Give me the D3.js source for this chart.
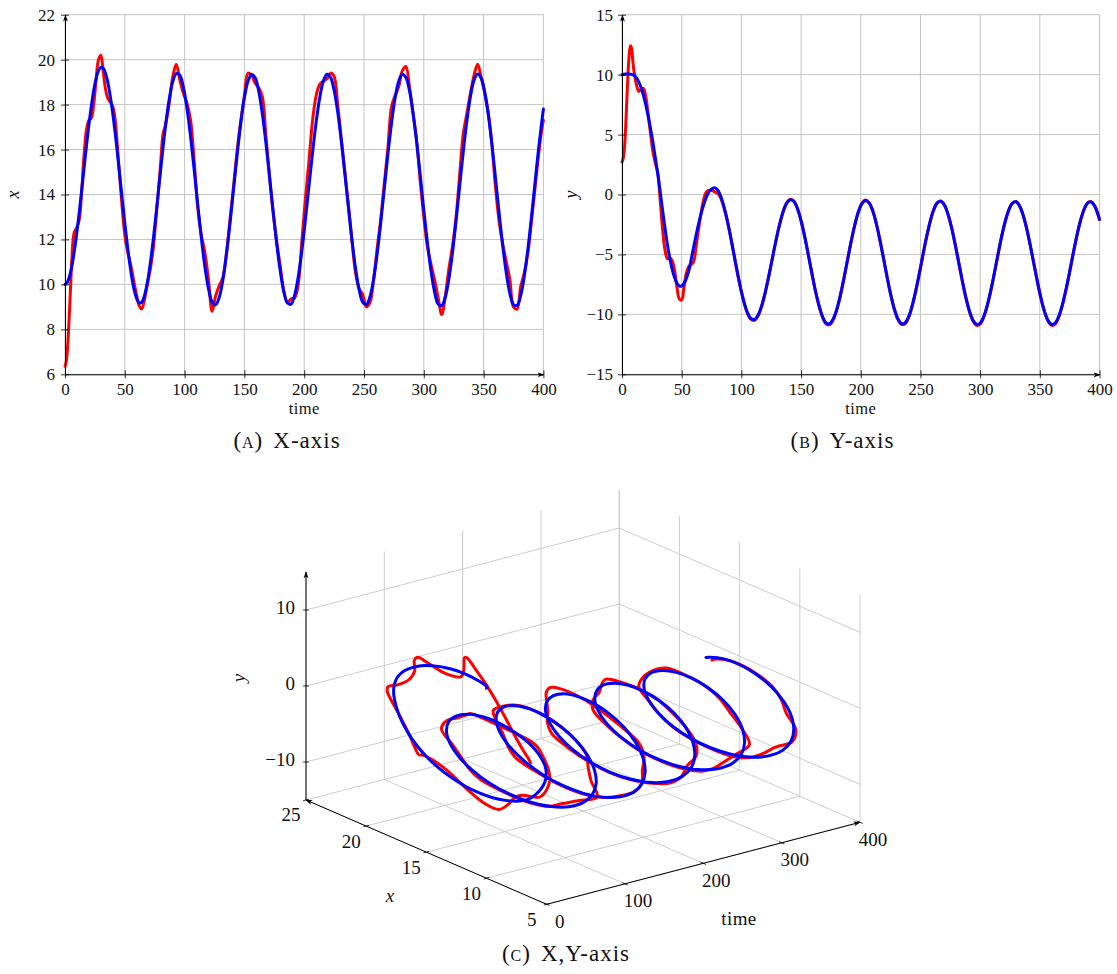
<!DOCTYPE html>
<html>
<head>
<meta charset="utf-8">
<script src="https://cdn.jsdelivr.net/npm/d3@7"></script>
<style>
  body { margin: 0; background: #fff; }
  svg { display: block; }
  text { font-family: "Liberation Serif", "Times New Roman", serif; fill: #111; }
</style>
</head>
<body>
<svg id="chart" width="1117" height="974" font-family="Liberation Serif, serif"></svg>
<script>
// ---- data: sampled trajectories (time, x, y) for the reference (red) and the estimate (blue)
const time = [0,1,2,3,4,5,6,7,8,9,10,
  12,14,16,18,20,22,24,26,28,30,32,34,36,38,40,42,44,46,48,50,52,54,56,58,60,62,64,66,68,70,72,74,76,78,80,82,84,
  87,90,93,96,99,102,105,108,111,114,117,120,123,126,129,132,135,138,141,144,147,150,153,156,159,162,165,168,171,174,177,180,
  183,186,189,192,195,198,201,204,207,210,213,216,219,222,225,228,231,234,237,240,243,246,249,252,255,258,261,264,267,270,
  273,276,279,282,285,288,291,294,297,300,303,306,309,312,315,318,321,324,327,330,333,336,339,342,345,348,351,354,357,360,
  363,366,369,372,375,378,381,384,387,390,393,396,399,400];

const blueX = [10.00,10.03,10.10,10.23,10.40,10.63,10.89,11.20,11.55,11.93,12.35,
  13.25,14.21,15.21,16.19,17.11,17.93,18.63,19.16,19.51,19.66,
  19.61,19.37,18.94,18.33,17.58,16.72,15.75,14.75,13.73,12.73,11.81,10.97,10.26,9.72,9.36,9.18,
  9.20,9.42,9.85,10.45,11.21,12.09,13.06,14.08,15.11,16.10,17.02,
  18.19,19.00,19.38,
  19.31,18.77,17.83,16.57,15.10,13.55,12.06,10.77,9.80,9.22,
  9.09,9.43,10.20,11.34,12.74,14.27,15.79,17.18,18.30,19.04,19.34,
  19.19,18.59,17.59,16.29,14.81,13.27,11.82,10.59,9.66,9.17,
  9.12,9.52,10.33,11.48,12.87,14.37,15.87,17.22,18.31,19.04,19.35,
  19.21,18.64,17.67,16.40,14.93,13.41,11.95,10.69,9.75,9.20,
  9.10,9.45,10.22,11.36,12.75,14.27,15.79,17.17,18.29,19.03,19.35,
  19.21,18.63,17.64,16.35,14.87,13.32,11.86,10.61,9.67,9.13,
  9.06,9.44,10.25,11.42,12.84,14.38,15.90,17.27,18.36,19.09,19.36,
  19.17,18.54,17.52,16.21,14.71,13.17,11.72,10.50,9.59,9.10,
  9.07,9.50,10.36,11.55,12.99,14.53,16.05,17.39,
  17.80];

const blueY = [10.00,10.02,10.04,10.05,10.06,10.06,10.05,10.04,10.02,9.99,9.95,
  9.75,9.40,8.90,8.26,7.45,6.50,5.45,4.30,3.00,1.68,
  0.25,-1.30,-2.78,-4.15,-5.30,-6.22,-6.92,-7.40,-7.63,-7.64,-7.40,-6.98,-6.35,-5.40,-4.40,-3.42,
  -2.50,-1.67,-1.00,-0.40,0.07,0.36,0.52,0.55,0.39,0.03,-0.52,
  -1.64,-3.02,-4.57,
  -6.15,-7.63,-8.89,-9.83,-10.35,-10.43,-10.06,-9.28,-8.16,-6.79,
  -5.31,-3.84,-2.51,-1.43,-0.72,-0.43,-0.58,-1.19,-2.19,-3.49,-4.99,
  -6.54,-8.01,-9.24,-10.19,-10.71,-10.77,-10.37,-9.55,-8.37,-6.95,
  -5.42,-3.90,-2.55,-1.46,-0.76,-0.50,-0.71,-1.36,-2.42,-3.77,-5.28,
  -6.84,-8.29,-9.49,-10.34,-10.76,-10.72,-10.22,-9.31,-8.07,-6.63,
  -5.09,-3.61,-2.32,-1.32,-0.72,-0.57,-0.87,-1.62,-2.73,-4.11,-5.63,
  -7.16,-8.56,-9.70,-10.48,-10.83,-10.73,-10.18,-9.23,-7.98,-6.52,
  -4.99,-3.52,-2.26,-1.30,-0.74,-0.61,-0.95,-1.72,-2.84,-4.23,-5.75,
  -7.27,-8.65,-9.77,-10.52,-10.84,-10.71,-10.13,-9.16,-7.90,-6.44,
  -4.91,-3.46,-2.21,-1.27,-0.72,-0.62,-0.97,-1.75,
  -2.09];

const redX = [6.35,6.55,7.10,8.00,9.10,10.30,11.40,12.10,12.35,12.45,12.55,
  12.90,14.20,15.80,16.90,17.30,17.40,18.00,19.10,20.00,20.20,
  19.45,18.65,18.25,18.10,17.90,17.30,16.00,14.60,13.30,12.20,11.55,11.10,10.60,10.00,9.50,9.05,
  8.90,9.20,9.75,10.30,10.90,11.70,12.90,14.10,15.40,16.70,17.10,
  18.00,19.20,19.80,
  19.10,18.50,18.05,17.30,15.50,13.40,12.20,11.40,10.20,8.80,
  9.50,9.95,10.30,11.40,12.90,14.40,16.00,17.30,18.40,19.40,19.30,
  18.95,18.75,18.35,16.60,14.80,13.20,11.90,10.80,9.70,9.20,
  9.35,9.40,10.00,11.90,13.80,15.50,17.30,18.40,18.90,19.05,19.15,
  19.40,19.25,18.00,16.50,15.00,13.50,11.90,10.50,9.80,9.55,
  9.00,9.20,10.20,11.60,12.90,14.50,16.10,17.90,18.40,18.80,19.50,
  19.70,18.80,17.60,16.40,14.60,13.00,11.70,10.90,10.20,9.40,
  8.66,9.50,10.70,11.70,13.00,14.90,16.70,17.60,18.50,19.30,19.80,
  19.20,18.50,17.60,16.20,14.30,12.80,11.80,11.00,10.20,9.00,
  8.90,9.90,10.50,11.40,12.80,14.30,15.80,17.00,
  17.30];

const redY = [2.70,3.00,3.80,5.50,7.80,10.00,11.60,12.40,12.20,11.20,10.30,
  9.20,8.60,8.80,8.85,8.10,6.60,5.00,3.50,2.60,1.80,
  -0.50,-2.90,-4.60,-5.35,-5.30,-5.50,-6.30,-7.70,-8.70,-8.80,-7.70,-6.50,-6.00,-5.85,-5.60,-4.40,
  -3.00,-1.70,-0.60,0.10,0.33,0.35,0.30,0.20,0.10,-0.15,-0.65,
  -1.70,-3.05,-4.60,
  -6.20,-7.70,-8.95,-9.90,-10.42,-10.50,-10.12,-9.32,-8.18,-6.80,
  -5.31,-3.84,-2.50,-1.42,-0.70,-0.40,-0.55,-1.17,-2.18,-3.49,-5.00,
  -6.56,-8.04,-9.28,-10.25,-10.80,-10.86,-10.44,-9.60,-8.40,-6.96,
  -5.42,-3.89,-2.53,-1.44,-0.73,-0.46,-0.68,-1.34,-2.41,-3.77,-5.29,
  -6.86,-8.32,-9.54,-10.40,-10.84,-10.80,-10.28,-9.35,-8.09,-6.64,
  -5.09,-3.60,-2.30,-1.30,-0.70,-0.54,-0.85,-1.61,-2.73,-4.12,-5.65,
  -7.19,-8.60,-9.75,-10.55,-10.92,-10.81,-10.24,-9.27,-8.00,-6.53,
  -4.99,-3.51,-2.24,-1.28,-0.71,-0.58,-0.93,-1.71,-2.84,-4.24,-5.77,
  -7.30,-8.69,-9.82,-10.59,-10.92,-10.79,-10.19,-9.20,-7.92,-6.45,
  -4.91,-3.45,-2.19,-1.25,-0.69,-0.59,-0.95,-1.74,
  -2.09];

// ---- tick values
const timeTicks = [0, 50, 100, 150, 200, 250, 300, 350, 400];
const xTicksA = [6, 8, 10, 12, 14, 16, 18, 20, 22];
const yTicksB = [-15, -10, -5, 0, 5, 10, 15];
const timeTicks3D = [0, 100, 200, 300, 400];
const xTicks3D = [5, 10, 15, 20, 25];
const yTicks3D = [-10, 0, 10];

const RED = "#ff0000", BLUE = "#0000ff", GRID = "#c4c4c4";
const fmt = d3.format("d");

const svg = d3.select("#chart");
const defs = svg.append("defs");
defs.append("marker")
  .attr("id", "arrow").attr("viewBox", "0 0 10 10")
  .attr("refX", 9).attr("refY", 5)
  .attr("markerWidth", 7).attr("markerHeight", 7)
  .attr("markerUnits", "userSpaceOnUse")
  .attr("orient", "auto")
  .append("path").attr("d", "M0,1.5 L10,5 L0,8.5 L2.5,5 Z").attr("fill", "#000");

const smooth = d3.curveCatmullRom.alpha(0.5);

// ---- 2D time-series panel
function timePanel(o) {
  const xs = d3.scaleLinear().domain([0, 400]).range([o.left, o.right]);
  const ys = d3.scaleLinear().domain(o.yDomain).range([o.bottom, o.top]);
  const g = svg.append("g");

  g.append("g").selectAll("line").data(timeTicks).join("line")
    .attr("x1", d => xs(d)).attr("x2", d => xs(d))
    .attr("y1", o.bottom).attr("y2", o.top)
    .attr("stroke", GRID).attr("stroke-width", 1);
  g.append("g").selectAll("line").data(o.yTicks).join("line")
    .attr("x1", o.left).attr("x2", o.right)
    .attr("y1", d => ys(d)).attr("y2", d => ys(d))
    .attr("stroke", GRID).attr("stroke-width", 1);

  const line = d3.line().x(d => xs(d[0])).y(d => ys(d[1])).curve(smooth);
  o.series.forEach(s => {
    g.append("path")
      .datum(time.map((t, i) => [t, s.values[i]]))
      .attr("d", line)
      .attr("fill", "none").attr("stroke", s.color)
      .attr("stroke-width", 3).attr("stroke-linejoin", "round").attr("stroke-linecap", "round");
  });

  const ax = g.append("g").attr("transform", `translate(0,${o.bottom})`)
    .call(d3.axisBottom(xs).tickValues(timeTicks).tickFormat(fmt).tickSizeInner(4).tickSizeOuter(0).tickPadding(5));
  const ay = g.append("g").attr("transform", `translate(${o.left},0)`)
    .call(d3.axisLeft(ys).tickValues(o.yTicks).tickFormat(fmt).tickSizeInner(4).tickSizeOuter(0).tickPadding(o.pad));
  [ax, ay].forEach(a => {
    a.attr("font-family", null).attr("font-size", null);
    a.select(".domain").attr("stroke", "#000").attr("marker-end", "url(#arrow)");
    a.selectAll(".tick line").attr("stroke", "#000").attr("stroke-width", 0.8);
    a.selectAll(".tick text").style("font-size", "17px").attr("fill", "#111");
  });
  ax.selectAll(".tick line").attr("y1", -4);
  ay.selectAll(".tick line").attr("x1", 4);

  g.append("text").attr("x", (o.left + o.right) / 2).attr("y", o.bottom + 39.5)
    .attr("text-anchor", "middle").style("font-size", "16.5px").style("letter-spacing", "0.4px").text("time");
  g.append("text").attr("transform", `translate(${o.yLabelX},${(o.top + o.bottom) / 2}) rotate(-90)`)
    .attr("text-anchor", "middle").style("font-size", "18px").style("font-style", "italic").text(o.yLabel);
}

timePanel({ left: 65, right: 543.4, top: 14.7, bottom: 374.3, yDomain: [6, 22], yTicks: xTicksA, pad: 6,
  yLabel: "x", yLabelX: 19, series: [{ values: redX, color: RED }, { values: blueX, color: BLUE }] });
timePanel({ left: 622, right: 1099.5, top: 14.7, bottom: 374.3, yDomain: [-15, 15], yTicks: yTicksB, pad: 5,
  yLabel: "y", yLabelX: 577, series: [{ values: redY, color: RED }, { values: blueY, color: BLUE }] });

// ---- 3D view: time runs right-up, x runs left-up, y runs up
const tS = d3.scaleLinear().domain([0, 400]).range([0, 1]);
const xS = d3.scaleLinear().domain([5, 25]).range([0, 1]);
const yS = d3.scaleLinear().domain([-15, 15]).range([0, 1]);
const origin = [546.7, 904.3], eT = [313.3, -82], eX = [-240.7, -104.3], eY = [0, -228];
function proj(t, x, y) {
  const a = tS(t), b = xS(x), c = yS(y);
  return [origin[0] + a * eT[0] + b * eX[0] + c * eY[0],
          origin[1] + a * eT[1] + b * eX[1] + c * eY[1]];
}
const g3 = svg.append("g");
const seg = (p, q) => g3.append("line").attr("x1", p[0]).attr("y1", p[1]).attr("x2", q[0]).attr("y2", q[1]);
const gridSeg = (p, q) => seg(p, q).attr("stroke", "#c8c8c8").attr("stroke-width", 0.9);

// floor
timeTicks3D.forEach(t => gridSeg(proj(t, 5, -15), proj(t, 25, -15)));
xTicks3D.forEach(x => gridSeg(proj(0, x, -15), proj(400, x, -15)));
// back wall at x = 25
timeTicks3D.forEach(t => gridSeg(proj(t, 25, -15), proj(t, 25, 15)));
yTicks3D.forEach(y => gridSeg(proj(0, 25, y), proj(400, 25, y)));
// side wall at time = 400
xTicks3D.forEach(x => gridSeg(proj(400, x, -15), proj(400, x, 15)));
yTicks3D.forEach(y => gridSeg(proj(400, 5, y), proj(400, 25, y)));

// axes
seg(proj(0, 25, -15), proj(0, 25, 15)).attr("stroke", "#000").attr("marker-end", "url(#arrow)");
seg(proj(0, 5, -15), proj(0, 25, -15)).attr("stroke", "#000").attr("marker-end", "url(#arrow)");
seg(proj(0, 5, -15), proj(400, 5, -15)).attr("stroke", "#000").attr("marker-end", "url(#arrow)");

// ticks and labels
yTicks3D.forEach(y => {
  const p = proj(0, 25, y);
  seg([p[0] - 3, p[1]], [p[0] + 3, p[1]]).attr("stroke", "#000").attr("stroke-width", 0.8);
  g3.append("text").attr("x", p[0] - 11).attr("y", p[1] - 2).attr("dy", "0.33em")
    .attr("text-anchor", "end").style("font-size", "19px").text(d3.format("d")(y));
});
xTicks3D.forEach(x => {
  const p = proj(0, x, -15);
  seg([p[0] - 2.9, p[1] + 0.76], [p[0] + 2.9, p[1] - 0.76]).attr("stroke", "#000").attr("stroke-width", 0.8);
  g3.append("text").attr("x", p[0] - 15).attr("y", p[1] + 15).attr("dy", "0.34em")
    .attr("text-anchor", "middle").style("font-size", "19px").text(fmt(x));
});
timeTicks3D.forEach(t => {
  const p = proj(t, 5, -15);
  seg([p[0] - 2.75, p[1] - 1.2], [p[0] + 2.75, p[1] + 1.2]).attr("stroke", "#000").attr("stroke-width", 0.8);
  g3.append("text").attr("x", p[0] + 13).attr("y", p[1] + 17).attr("dy", "0.34em")
    .attr("text-anchor", "middle").style("font-size", "19px").text(fmt(t));
});
g3.append("text").attr("x", 390).attr("y", 902).attr("text-anchor", "middle")
  .style("font-size", "19px").style("font-style", "italic").text("x");
g3.append("text").attr("x", 739).attr("y", 925).attr("text-anchor", "middle")
  .style("font-size", "19px").style("letter-spacing", "0.4px").text("time");
g3.append("text").attr("transform", "translate(245,678) rotate(-90)").attr("text-anchor", "middle")
  .style("font-size", "19px").style("font-style", "italic").text("y");

// trajectories
const line3 = d3.line().x(d => d[0]).y(d => d[1]).curve(smooth);
[[redX, redY, RED], [blueX, blueY, BLUE]].forEach(([xs, ys, col]) => {
  g3.append("path")
    .datum(time.map((t, i) => proj(t, xs[i], ys[i])))
    .attr("d", line3).attr("fill", "none").attr("stroke", col)
    .attr("stroke-width", 3).attr("stroke-linejoin", "round").attr("stroke-linecap", "round");
});

// ---- sub-captions
function caption(cx, y, letter, rest) {
  const t = svg.append("text").attr("x", cx).attr("y", y).attr("text-anchor", "middle")
    .style("font-size", "23px").style("letter-spacing", "1px");
  t.append("tspan").text("(");
  t.append("tspan").style("font-variant", "small-caps").text(letter);
  t.append("tspan").text(")");
  t.append("tspan").attr("dx", 10).text(rest);
}
caption(287, 448, "a", "X-axis");
caption(842.5, 448, "b", "Y-axis");
caption(566, 961, "c", "X,Y-axis");
</script>
</body>
</html>
